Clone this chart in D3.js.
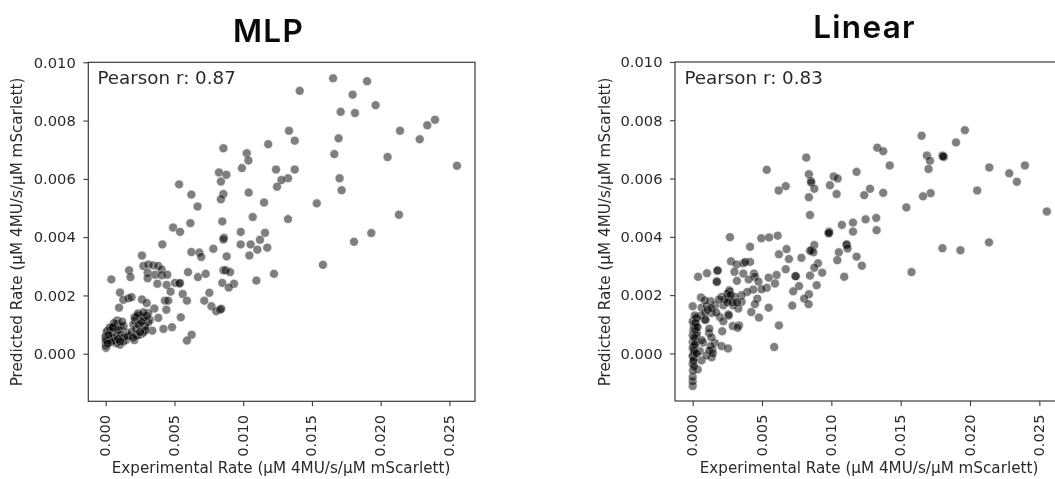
<!DOCTYPE html>
<html><head><meta charset="utf-8">
<script src="https://cdn.jsdelivr.net/npm/d3@7"></script>
<style>
html,body{margin:0;padding:0;background:#fff;overflow:hidden}
svg{display:block;filter:blur(0.6px)}
text{font-family:"DejaVu Sans",sans-serif;fill:#2a2a2a}
.title{font-family:Inter,sans-serif;font-weight:600;fill:#0a0a0a;letter-spacing:1.3px}
</style></head><body>
<svg id="c" width="1055" height="479"></svg>
<script>
// All rates are in thousandths (x 1e-3) of µM 4MU/s/µM mScarlett
const xTicks=[0,5,10,15,20,25];
const yTicks=[0,2,4,6,8,10];
const xLabel="Experimental Rate (µM 4MU/s/µM mScarlett)";
const yLabel="Predicted Rate (µM 4MU/s/µM mScarlett)";

const mlpExperimental=[16.54,19.01,14.11,17.96,19.63,17.09,18.13,23.95,23.39,21.41,13.33,13.75,16.94,22.84,8.56,11.82,10.26,10.38,16.63,20.50,25.55,9.91,8.24,8.78,12.39,13.75,13.26,12.78,17.01,8.38,5.34,12.46,17.16,6.23,8.56,8.38,10.40,11.52,15.35,6.68,21.33,10.69,13.26,8.48,6.16,4.90,5.41,9.82,11.59,19.32,18.06,15.80,
8.60,8.56,4.12,9.82,10.54,11.22,11.75,11.03,10.45,7.83,6.23,6.81,6.95,8.80,2.64,2.74,3.10,3.46,3.83,4.07,1.70,1.80,3.05,3.05,3.59,4.07,4.48,0.41,3.76,4.43,5.04,5.41,5.36,5.99,6.71,7.27,8.56,8.73,9.05,8.48,9.33,8.95,10.96,12.24,4.72,5.60,7.54,1.04,1.28,1.65,1.88,2.64,2.98,4.31,4.55,5.91,7.17,7.69,8.04,8.31,8.41,0.97,3.54,4.41,3.10,5.46,3.83,2.25,2.55,2.13,3.22,2.86,2.01,3.39,4.20,4.82,2.62,2.37,2.08,6.25,5.91,2.74,0.84,0.84,0.67,1.09,0.07,0.02,0.27,0.19,0.02,0.02,0.02,0.55,1.04,1.04,1.48,1.48,0.80,1.28,1.77,0.12,0.32,0.55,0.92,2.25,3.10,2.86,2.50,2.74,2.37,0,0,0.30,0.50,0.80,0.10,0.30,0.60,
0.60,0.90,1.10,1.30,1.60,1.90,2.20,2.40,2.60,2.80,3.00,1.30,1.20,0.70,0.40,0.90,2.00,2.90,2.50,2.10,2.35,2.75,0.20,0.15,0.50,1.05];
const mlpPredicted=[9.45,9.35,9.02,8.89,8.53,8.30,8.26,8.03,7.84,7.65,7.65,7.31,7.39,7.36,7.05,7.19,6.88,6.63,6.85,6.75,6.45,6.37,6.22,6.14,6.32,6.32,6.02,5.96,6.02,5.91,5.81,5.73,5.61,5.46,5.48,5.30,5.53,5.19,5.16,5.05,4.77,4.69,4.62,4.54,4.48,4.33,4.18,4.18,4.15,4.14,3.84,3.05,
3.98,3.92,3.75,3.75,3.75,3.91,3.64,3.57,3.37,3.60,3.49,3.47,3.32,3.34,3.37,3.01,3.06,3.03,3.01,2.89,2.86,2.63,2.78,2.59,2.71,2.69,2.71,2.55,2.40,2.36,2.43,2.43,2.41,2.80,2.63,2.74,2.86,2.86,2.80,2.43,2.40,2.27,2.51,2.74,2.13,2.05,2.09,2.10,1.85,1.90,1.94,1.86,1.74,1.82,1.82,1.82,1.82,1.63,1.46,1.51,1.54,1.58,1.55,1.51,1.39,1.25,1.23,1.25,1.29,1.14,1.16,0.96,1.00,0.79,0.85,0.91,0.68,0.64,0.47,0.65,0.45,0.73,1.14,1.02,0.93,0.93,0.73,0.62,0.62,0.56,0.39,0.20,0.28,0.45,0.31,0.54,0.73,0.47,0.36,0.42,0.62,0.79,0.79,0.93,0.85,0.62,1.08,0.93,1.02,1.14,1.31,0.56,0.47,0.50,0.70,0.60,0.45,0.90,0.55,
1.05,0.80,0.65,0.55,0.60,0.75,0.85,1.00,1.10,1.25,1.30,0.95,1.10,0.45,0.40,0.50,0.55,0.80,0.75,1.25,1.38,1.42,0.65,0.35,0.90,0.42];

const linearExperimental=[19.63,16.51,18.99,13.31,13.74,8.19,16.89,17.11,18.02,18.11,18.05,14.21,23.96,21.39,17.01,5.34,22.83,11.82,8.38,10.17,10.46,23.38,8.53,8.55,9.90,6.71,6.20,8.77,12.79,10.38,12.37,13.74,17.16,16.61,8.38,20.52,15.41,25.54,8.46,13.24,12.47,11.56,10.76,13.26,11.56,9.83,21.37,19.31,18.01,15.78,
2.69,4.95,5.51,6.13,4.14,9.85,9.80,11.10,11.10,11.17,10.54,10.43,11.82,12.20,8.77,8.58,8.70,8.46,7.84,6.77,6.22,6.94,6.71,9.04,8.77,9.34,8.46,8.94,10.93,7.40,7.44,7.67,7.25,8.38,8.04,8.36,7.18,5.48,4.66,4.49,4.23,4.78,6.22,5.88,0.39,1.03,1.78,1.80,1.73,1.75,2.76,3.17,3.65,4.14,3.80,3.01,3.65,4.42,4.49,4.04,3.19,4.75,5.48,6.05,5.93,5.34,4.97,4.37,3.94,3.53,2.64,2.66,2.09,2.57,2.69,3.05,3.53,3.29,2.93,2.57,2.60,2.21,1.61,1.30,0.60,0,0.64,1.01,0.88,1.37,0.93,1.96,2.21,2.89,3.34,3.24,2.13,1.18,0.76,1.61,2.09,2.55,1.42,1.37,0.64,0.52,1.01,0.36,
0,0,0,0.02,0,0,0,0,0,0.05,0.10,0,0.29,0.20,0.24,0.05,0.02,0.10,0.15,0.20,0.10,0.25,0.30,
0.60,0.90,1.10,1.35,1.70,2.30,2.50,2.75,2.90,3.20,1.90,2.50,0.30,0.15,0.20,0.10,0.15,0.10,0.05,0.10,0.30,0.90,1.20,1.35,1.30,1.20,0.20,0.35,1.45,0.65];
const linearPredicted=[7.66,7.47,7.24,7.06,6.94,6.72,6.79,6.61,6.79,6.74,6.76,6.45,6.45,6.38,6.33,6.30,6.18,6.23,6.15,6.07,6.00,5.89,5.92,5.86,5.77,5.74,5.59,5.65,5.65,5.47,5.43,5.51,5.50,5.39,5.36,5.59,5.01,4.87,4.75,4.65,4.60,4.49,4.41,4.23,4.18,4.18,3.81,3.54,3.61,2.79,
3.99,3.95,3.98,4.04,3.66,4.14,4.12,3.75,3.72,3.60,3.47,3.20,3.32,3.01,3.72,3.55,3.47,3.52,3.28,3.58,3.40,3.24,2.89,3.09,2.94,2.77,2.67,2.34,2.63,2.65,2.65,2.31,2.13,2.03,1.88,1.69,1.64,1.57,1.88,1.69,1.42,1.23,0.96,0.22,2.63,2.75,2.83,2.85,2.48,2.45,3.16,3.05,3.09,3.14,3.14,2.80,2.74,2.74,2.63,2.54,2.49,2.46,2.60,2.69,2.40,2.25,2.20,2.19,2.11,2.00,2.17,2.12,1.94,1.92,1.82,1.94,1.77,1.54,1.65,1.34,1.30,1.65,1.65,1.79,1.92,1.62,1.57,1.62,1.82,1.39,1.16,1.25,1.10,0.94,0.96,0.88,0.76,0.70,0.37,0.36,0.25,0.17,0.13,-0.13,-0.24,0.08,-0.07,-0.55,
-1.12,-0.96,-0.81,-0.59,-0.36,-0.10,0.18,0.39,0.62,0.79,1.02,1.10,1.23,0.50,0.62,0.22,-0.07,-0.20,0,0.35,0.90,0.95,0.70,
1.30,1.40,1.50,1.55,1.40,1.85,2.05,2.00,1.75,1.75,1.85,1.75,1.20,1.30,0.80,0.55,0.30,0.10,-0.25,-0.45,0,1.15,0.85,0.55,0.25,0.10,1.05,0.90,0,0.45];

const panels=[
 {title:"MLP",titleX:268.5,titleY:42,titleSize:31.5,r:"Pearson r: 0.87",xs:mlpExperimental,ys:mlpPredicted,
  left:88.3,right:475,top:62.3,bottom:401.3,xDom:[-1.265,26.86],yLabelX:17,xLabelX:281,textX:97.5},
 {title:"Linear",titleX:864.5,titleY:38,titleSize:31.5,r:"Pearson r: 0.83",xs:linearExperimental,ys:linearPredicted,
  left:675,right:1065,top:62,bottom:401,xDom:[-1.275,26.85],yLabelX:605,xLabelX:869,textX:684.5}
];

const svg=d3.select("#c");
panels.forEach(p=>{
  const x=d3.scaleLinear().domain(p.xDom).range([p.left,p.right]);
  const y=d3.scaleLinear().domain([-1.633,10]).range([p.bottom,p.top]);
  const g=svg.append("g");
  g.selectAll("circle").data(p.xs).join("circle")
    .attr("cx",d=>x(d)).attr("cy",(d,i)=>y(p.ys[i])).attr("r",4.5)
    .attr("fill","#000").attr("stroke","#fff").attr("stroke-width",0.6).attr("opacity",0.5);
  g.append("rect").attr("x",p.left).attr("y",p.top).attr("width",p.right-p.left).attr("height",p.bottom-p.top)
    .attr("fill","none").attr("stroke","#3a3a3a").attr("stroke-width",1.2);
  const ax=g.append("g").attr("transform",`translate(0,${p.bottom})`)
    .call(d3.axisBottom(x).tickValues(xTicks).tickSize(5).tickPadding(5).tickFormat(d=>(d/1000).toFixed(3)));
  ax.select(".domain").remove();
  ax.selectAll("line").attr("stroke","#3a3a3a").attr("stroke-width",1.1);
  ax.selectAll("text").attr("font-size",14.7).attr("fill","#2a2a2a").attr("font-family","DejaVu Sans")
    .attr("text-anchor","end").attr("dominant-baseline","middle")
    .attr("transform",d=>`translate(0,13.5) rotate(-90)`).attr("x",0).attr("y",0).attr("dy",null);
  const ay=g.append("g").attr("transform",`translate(${p.left},0)`)
    .call(d3.axisLeft(y).tickValues(yTicks).tickSize(5).tickPadding(7.5).tickFormat(d=>(d/1000).toFixed(3)));
  ay.select(".domain").remove();
  ay.selectAll("line").attr("stroke","#3a3a3a").attr("stroke-width",1.1);
  ay.selectAll("text").attr("font-size",14.7).attr("fill","#2a2a2a").attr("font-family","DejaVu Sans");
  g.append("text").attr("x",p.xLabelX).attr("y",473).attr("text-anchor","middle").attr("font-size",15.2).text(xLabel);
  g.append("text").attr("transform",`translate(${p.yLabelX+5},232) rotate(-90)`).attr("text-anchor","middle").attr("font-size",15.2).text(yLabel);
  g.append("text").attr("x",p.textX).attr("y",84).attr("font-size",18.3).text(p.r);
  g.append("text").attr("class","title").attr("x",p.titleX).attr("y",p.titleY).attr("text-anchor","middle").attr("font-size",p.titleSize).text(p.title);
});
</script>
</body></html>
